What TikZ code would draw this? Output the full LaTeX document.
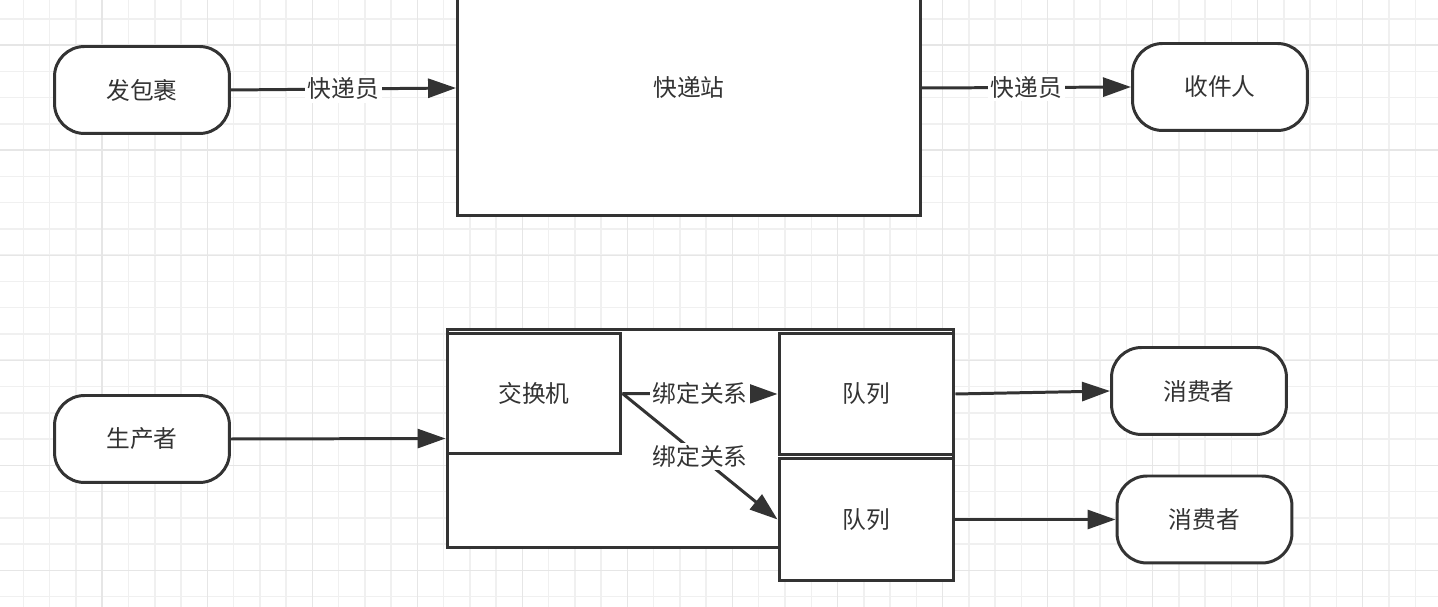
\documentclass[tikz,border=0pt]{standalone}
\usepackage{fontspec}
\newfontfamily\cjk{Noto Sans CJK SC}
\usetikzlibrary{arrows.meta,positioning}
\definecolor{ink}{HTML}{333333}
\definecolor{gridminor}{HTML}{F0F0F0}
\definecolor{gridmajor}{HTML}{E6E6E6}

\begin{document}
\begin{tikzpicture}[
  x=0.02cm, y=-0.02cm,
  font=\cjk\fontsize{13.5}{16}\selectfont, text=ink,
  box/.style={draw=ink, line width=1.7pt, fill=white, inner sep=0pt},
  pill/.style={box, rounded corners=0.6cm, minimum width=3.5cm, minimum height=1.74cm},
  queue/.style={box, minimum width=3.5cm, minimum height=2.44cm},
  flow/.style={-{Triangle[length=0.56cm, width=0.38cm]}, line width=1.7pt, draw=ink},
  lbl/.style={fill=white, inner sep=1.5pt},
  gridline/.style={line width=0.85pt},
]
  \useasboundingbox (0,0) rectangle (1438,607);
  \clip (0,0) rectangle (1438,607);
  % --- background grid ---
  \fill[white] (0,0) rectangle (1438,607);
  \foreach \k in {0,...,55}
    \draw[gridline, gridminor] ({-2.8+26.26*\k},0) -- ++(0,607);
  \foreach \k in {0,...,23}
    \draw[gridline, gridminor] (0,{-7.4+26.26*\k}) -- ++(1438,0);
  \foreach \k in {0,...,14}
    \draw[gridline, gridmajor] ({-2.8+105.04*\k},0) -- ++(0,607);
  \foreach \k in {0,...,6}
    \draw[gridline, gridmajor] (0,{45.2+105.04*\k}) -- ++(1438,0);
  % --- parcel example ---
  \node[pill] (parcel) at (142,90) {发包裹};
  \node[box, minimum width=9.26cm, minimum height=5.12cm] (station) at (689,88) {快递站};
  \node[pill] (recv) at (1220,87) {收件人};
  \draw[flow] (parcel.east) -- node[lbl] {快递员} (station.west);
  \draw[flow] (station.east) -- node[lbl] {快递员} (recv.west);
  % --- producer / exchange / queues ---
  \node[pill] (prod) at (142,439) {生产者};
  \node[box, minimum width=10.14cm, minimum height=4.38cm] (broker) at (700.5,438.5) {};
  \node[box, minimum width=3.48cm, minimum height=2.42cm] (xchg) at (534,393.5) {交换机};
  \node[queue] (q1) at (866.5,394) {队列};
  \node[queue] (q2) at (866.5,519.5) {队列};
  \node[pill] (cons1) at (1199,391) {消费者};
  \node[pill] (cons2) at (1204.5,519.5) {消费者};
  \draw[flow] (prod.east) -- (broker.west);
  \draw[flow] (xchg.east) -- node[lbl] {绑定关系} (q1.west);
  \draw[flow] (xchg.east) -- node[lbl] {绑定关系} (q2.west);
  \draw[flow] (q1.east) -- (cons1.west);
  \draw[flow] (q2.east) -- (cons2.west);
\end{tikzpicture}
\end{document}
